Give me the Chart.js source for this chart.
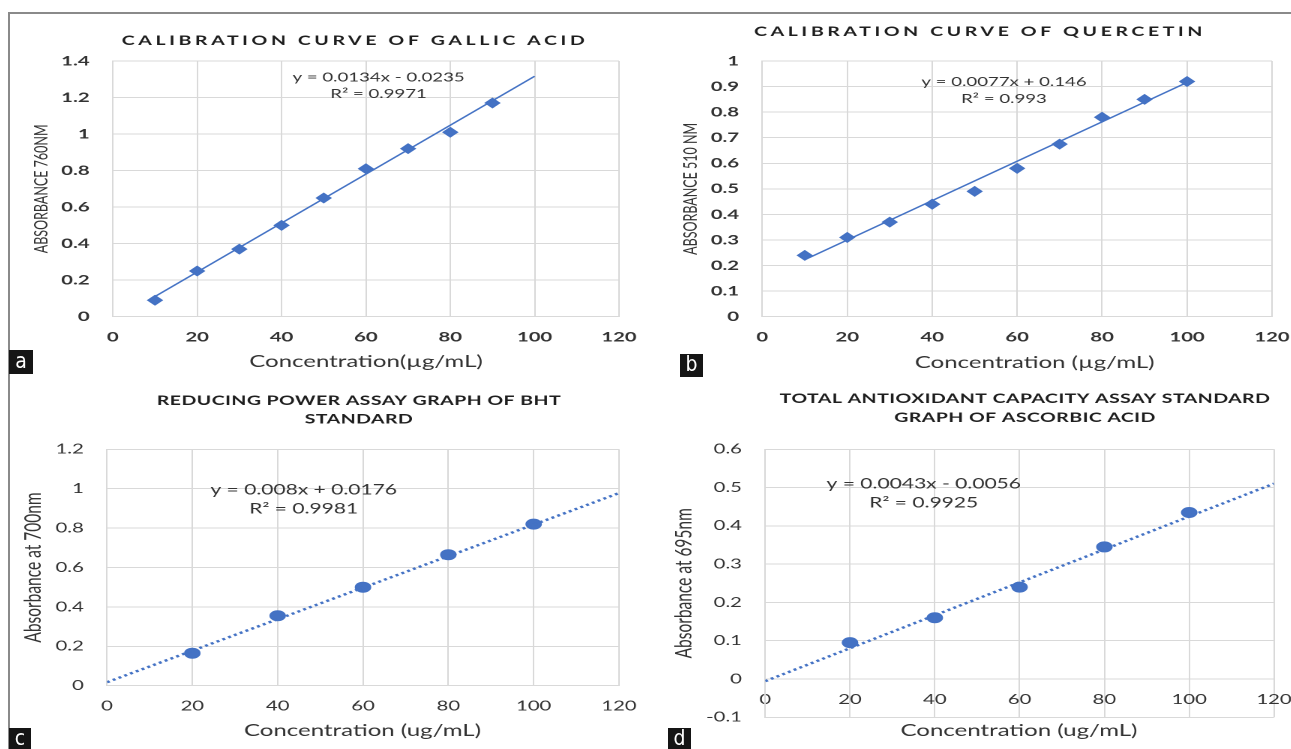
<!DOCTYPE html>
<html>
<head>
<meta charset="utf-8">
<script src="https://cdn.jsdelivr.net/npm/chart.js@4.4.1/dist/chart.umd.min.js"></script>
<style>
  body { margin: 0; width: 1291px; height: 749px; overflow: hidden; position: relative; background: #fff; font-family: Lato, sans-serif; }
  #frame { position: absolute; left: 8px; top: 12px; width: 1300px; height: 760px; border-top: 2px solid #8a8a8a; border-left: 2px solid #8a8a8a; }
  .panel { position: absolute; transform-origin: 0 0; transform: scaleX(1.5); }
  .tag { position: absolute; background: #151515; color: #fff; font: 21px "Liberation Sans Narrow", "DejaVu Sans Condensed", sans-serif; text-align: center; }
</style>
</head>
<body>
<div id="frame"></div>
<div class="panel" id="chartA"><canvas></canvas></div>
<div class="panel" id="chartB"><canvas></canvas></div>
<div class="panel" id="chartC"><canvas></canvas></div>
<div class="panel" id="chartD"><canvas></canvas></div>
<div class="tag" style="left:9px;top:350px;width:24px;height:24px;line-height:22px">a</div>
<div class="tag" style="left:680px;top:354px;width:23px;height:23px;line-height:21px">b</div>
<div class="tag" style="left:9px;top:728px;width:22px;height:21px;line-height:20px">c</div>
<div class="tag" style="left:668px;top:728px;width:23px;height:21px;line-height:20px">d</div>
<script>
// the original figure is stretched sideways, so every panel is drawn narrow and scaled in x
const STRETCH = 1.5;

const concTicks = [0, 20, 40, 60, 80, 100, 120];

// a - gallic acid
const gallicConc = [10, 20, 30, 40, 50, 60, 70, 80, 90];
const gallicAbs = [0.09, 0.25, 0.37, 0.50, 0.65, 0.81, 0.92, 1.01, 1.17];
const gallicFitConc = [10, 100];
const gallicFitAbs = [0.1105, 1.3165];
const gallicYTicks = [0, 0.2, 0.4, 0.6, 0.8, 1, 1.2, 1.4];

// b - quercetin
const quercetinConc = [10, 20, 30, 40, 50, 60, 70, 80, 90, 100];
const quercetinAbs = [0.24, 0.31, 0.37, 0.44, 0.49, 0.58, 0.675, 0.78, 0.85, 0.92];
const quercetinFitConc = [10, 100];
const quercetinFitAbs = [0.223, 0.916];
const quercetinYTicks = [0, 0.1, 0.2, 0.3, 0.4, 0.5, 0.6, 0.7, 0.8, 0.9, 1];

// c - BHT reducing power
const bhtConc = [20, 40, 60, 80, 100];
const bhtAbs = [0.165, 0.355, 0.50, 0.665, 0.82];
const bhtFitConc = [0, 120];
const bhtFitAbs = [0.0176, 0.9776];
const bhtYTicks = [0, 0.2, 0.4, 0.6, 0.8, 1, 1.2];

// d - ascorbic acid total antioxidant capacity
const ascorbicConc = [20, 40, 60, 80, 100];
const ascorbicAbs = [0.095, 0.16, 0.24, 0.345, 0.435];
const ascorbicFitConc = [0, 120];
const ascorbicFitAbs = [-0.0056, 0.5104];
const ascorbicYTicks = [-0.1, 0, 0.1, 0.2, 0.3, 0.4, 0.5, 0.6];

const BLUE = '#4472c4';
const GRID = '#d9d9d9';
const INK = '#333';

function pairs(xs, ys) {
  return xs.map((x, i) => ({ x: x, y: ys[i] }));
}

// chart title, x title and the trendline equation
const panelText = {
  id: 'panelText',
  afterDraw(chart, args, o) {
    const ctx = chart.ctx;
    ctx.save();
    ctx.textAlign = 'center';
    ctx.textBaseline = 'middle';
    ctx.fillStyle = '#1e1e1e';
    ctx.font = o.titleFont;
    ctx.letterSpacing = o.titleSpacing + 'px';
    o.title.forEach((line, i) => ctx.fillText(line, o.titleX, o.titleY + i * o.titleGap));
    ctx.letterSpacing = '0px';
    ctx.fillStyle = INK;
    ctx.font = o.xTitleFont;
    ctx.fillText(o.xTitle, o.xTitleX, o.xTitleY);
    ctx.font = o.eqFont;
    const ex = chart.scales.x.getPixelForValue(o.eqAt[0]);
    const ey = chart.scales.y.getPixelForValue(o.eqAt[1]);
    o.eq.forEach((line, i) => ctx.fillText(line, ex, ey + i * o.eqGap));
    ctx.restore();
  }
};

// positions below are screen pixels
const panels = [
  {
    id: 'chartA', left: 10, top: 14, width: 436, height: 363,
    area: { left: 112.8, right: 619, top: 61, bottom: 316.7 },
    conc: gallicConc, abs: gallicAbs, fitConc: gallicFitConc, fitAbs: gallicFitAbs,
    yTicks: gallicYTicks, marker: 'rectRot', dotted: false, tickWeight: 'bold',
    title: ['CALIBRATION CURVE OF GALLIC ACID'], titleAt: [355, 41], titleGap: 0,
    titleFont: 'bold 13px Lato', titleSpacing: 2.4,
    yTitle: 'ABSORBANCE 760NM', yTitleX: 41.5, yTitleSize: 12.5,
    xTitle: 'Concentration(µg/mL)', xTitleAt: [366, 361.7],
    eq: ['y = 0.0134x - 0.0235', 'R² = 0.9971'], eqAt: [63, 1.31], eqGap: 16.6, eqFont: '12.4px Lato'
  },
  {
    id: 'chartB', left: 660, top: 14, width: 438, height: 363,
    area: { left: 762.3, right: 1272, top: 61, bottom: 316.7 },
    conc: quercetinConc, abs: quercetinAbs, fitConc: quercetinFitConc, fitAbs: quercetinFitAbs,
    yTicks: quercetinYTicks, marker: 'rectRot', dotted: false, tickWeight: 'bold',
    title: ['CALIBRATION CURVE OF QUERCETIN'], titleAt: [980, 31.7], titleGap: 0,
    titleFont: 'bold 13px Lato', titleSpacing: 2.4,
    yTitle: 'ABSORBANCE 510 NM', yTitleX: 690.6, yTitleSize: 12.5,
    xTitle: 'Concentration (µg/mL)', xTitleAt: [1034.7, 362.7],
    eq: ['y = 0.0077x + 0.146', 'R² = 0.993'], eqAt: [56.9, 0.917], eqGap: 17, eqFont: '12.4px Lato'
  },
  {
    id: 'chartC', left: 10, top: 385, width: 436, height: 363,
    area: { left: 107, right: 619, top: 449.3, bottom: 685.7 },
    conc: bhtConc, abs: bhtAbs, fitConc: bhtFitConc, fitAbs: bhtFitAbs,
    yTicks: bhtYTicks, marker: 'circle', dotted: true, tickWeight: 'normal',
    title: ['REDUCING POWER ASSAY GRAPH OF BHT', 'STANDARD'], titleAt: [359, 400.7], titleGap: 18.6,
    titleFont: 'bold 13px Lato', titleSpacing: 0.3,
    yTitle: 'Absorbance at 700nm', yTitleX: 33, yTitleSize: 15.5,
    xTitle: 'Concentration (ug/mL)', xTitleAt: [362.5, 730.7],
    eq: ['y = 0.008x + 0.0176', 'R² = 0.9981'], eqAt: [46.1, 0.993], eqGap: 18.7, eqFont: '14px Lato'
  },
  {
    id: 'chartD', left: 660, top: 385, width: 440, height: 363,
    area: { left: 765.2, right: 1274, top: 449.3, bottom: 717.3 },
    conc: ascorbicConc, abs: ascorbicAbs, fitConc: ascorbicFitConc, fitAbs: ascorbicFitAbs,
    yTicks: ascorbicYTicks, marker: 'circle', dotted: true, xAtZero: true, tickWeight: 'normal',
    title: ['TOTAL ANTIOXIDANT CAPACITY ASSAY STANDARD', 'GRAPH OF ASCORBIC ACID'], titleAt: [1025, 399], titleGap: 18.7,
    titleFont: 'bold 13px Lato', titleSpacing: 0.3,
    yTitle: 'Absorbance at 695nm', yTitleX: 684, yTitleSize: 15.5,
    xTitle: 'Concentration (ug/mL)', xTitleAt: [1019, 731],
    eq: ['y = 0.0043x - 0.0056', 'R² = 0.9925'], eqAt: [37.4, 0.509], eqGap: 19, eqFont: '14px Lato'
  }
];

function drawPanel(p) {
  const box = document.getElementById(p.id);
  box.style.left = p.left + 'px';
  box.style.top = p.top + 'px';
  box.style.width = p.width + 'px';
  box.style.height = p.height + 'px';
  const toX = sx => (sx - p.left) / STRETCH;
  const toY = sy => sy - p.top;
  const tickFont = { family: 'Lato', size: 13.5, weight: p.tickWeight };

  new Chart(box.querySelector('canvas'), {
    data: {
      datasets: [{
        type: 'line',
        data: pairs(p.fitConc, p.fitAbs),
        borderColor: BLUE,
        borderWidth: p.dotted ? 2.4 : 1.4,
        borderDash: p.dotted ? [2, 2.4] : [],
        pointRadius: 0,
        order: 0
      }, {
        type: 'scatter',
        data: pairs(p.conc, p.abs),
        pointStyle: p.marker,
        pointRadius: p.marker === 'rectRot' ? 4.8 : 5,
        backgroundColor: BLUE,
        borderColor: BLUE,
        borderWidth: 1,
        order: 1
      }]
    },
    options: {
      responsive: true,
      maintainAspectRatio: false,
      animation: false,
      devicePixelRatio: 2,
      events: [],
      layout: {
        padding: {
          left: 0,
          top: toY(p.area.top),
          right: p.width - toX(p.area.right),
          bottom: p.xAtZero ? p.height - toY(p.area.bottom) : 0
        }
      },
      plugins: {
        legend: { display: false },
        tooltip: { enabled: false },
        panelText: {
          title: p.title, titleX: toX(p.titleAt[0]), titleY: toY(p.titleAt[1]), titleGap: p.titleGap,
          titleFont: p.titleFont, titleSpacing: p.titleSpacing,
          xTitle: p.xTitle, xTitleX: toX(p.xTitleAt[0]), xTitleY: toY(p.xTitleAt[1]), xTitleFont: '16px Lato',
          eq: p.eq, eqAt: p.eqAt, eqGap: p.eqGap, eqFont: p.eqFont
        }
      },
      scales: {
        x: {
          type: 'linear',
          min: 0,
          max: 120,
          position: p.xAtZero ? { y: 0 } : 'bottom',
          afterBuildTicks: s => { s.ticks = concTicks.map(v => ({ value: v })); },
          afterFit: s => { if (!p.xAtZero) s.height = p.height - toY(p.area.bottom); },
          grid: { color: GRID, drawTicks: false },
          border: { color: GRID },
          ticks: { autoSkip: false, maxRotation: 0, padding: 12.5, color: INK, font: tickFont, callback: v => String(v) }
        },
        y: {
          type: 'linear',
          min: p.yTicks[0],
          max: p.yTicks[p.yTicks.length - 1],
          afterBuildTicks: s => { s.ticks = p.yTicks.map(v => ({ value: v })); },
          afterFit: s => { s.width = toX(p.area.left); },
          grid: { color: GRID, drawTicks: false },
          border: { color: GRID },
          ticks: { autoSkip: false, padding: 15.5, color: INK, font: tickFont, callback: v => String(v) },
          title: {
            display: true,
            text: p.yTitle,
            color: INK,
            font: { family: 'Lato', size: p.yTitleSize },
            padding: { top: toX(p.yTitleX) - p.yTitleSize * 0.6, bottom: 0 }
          }
        }
      }
    },
    plugins: [panelText]
  });
}

panels.forEach(drawPanel);
</script>
</body>
</html>
